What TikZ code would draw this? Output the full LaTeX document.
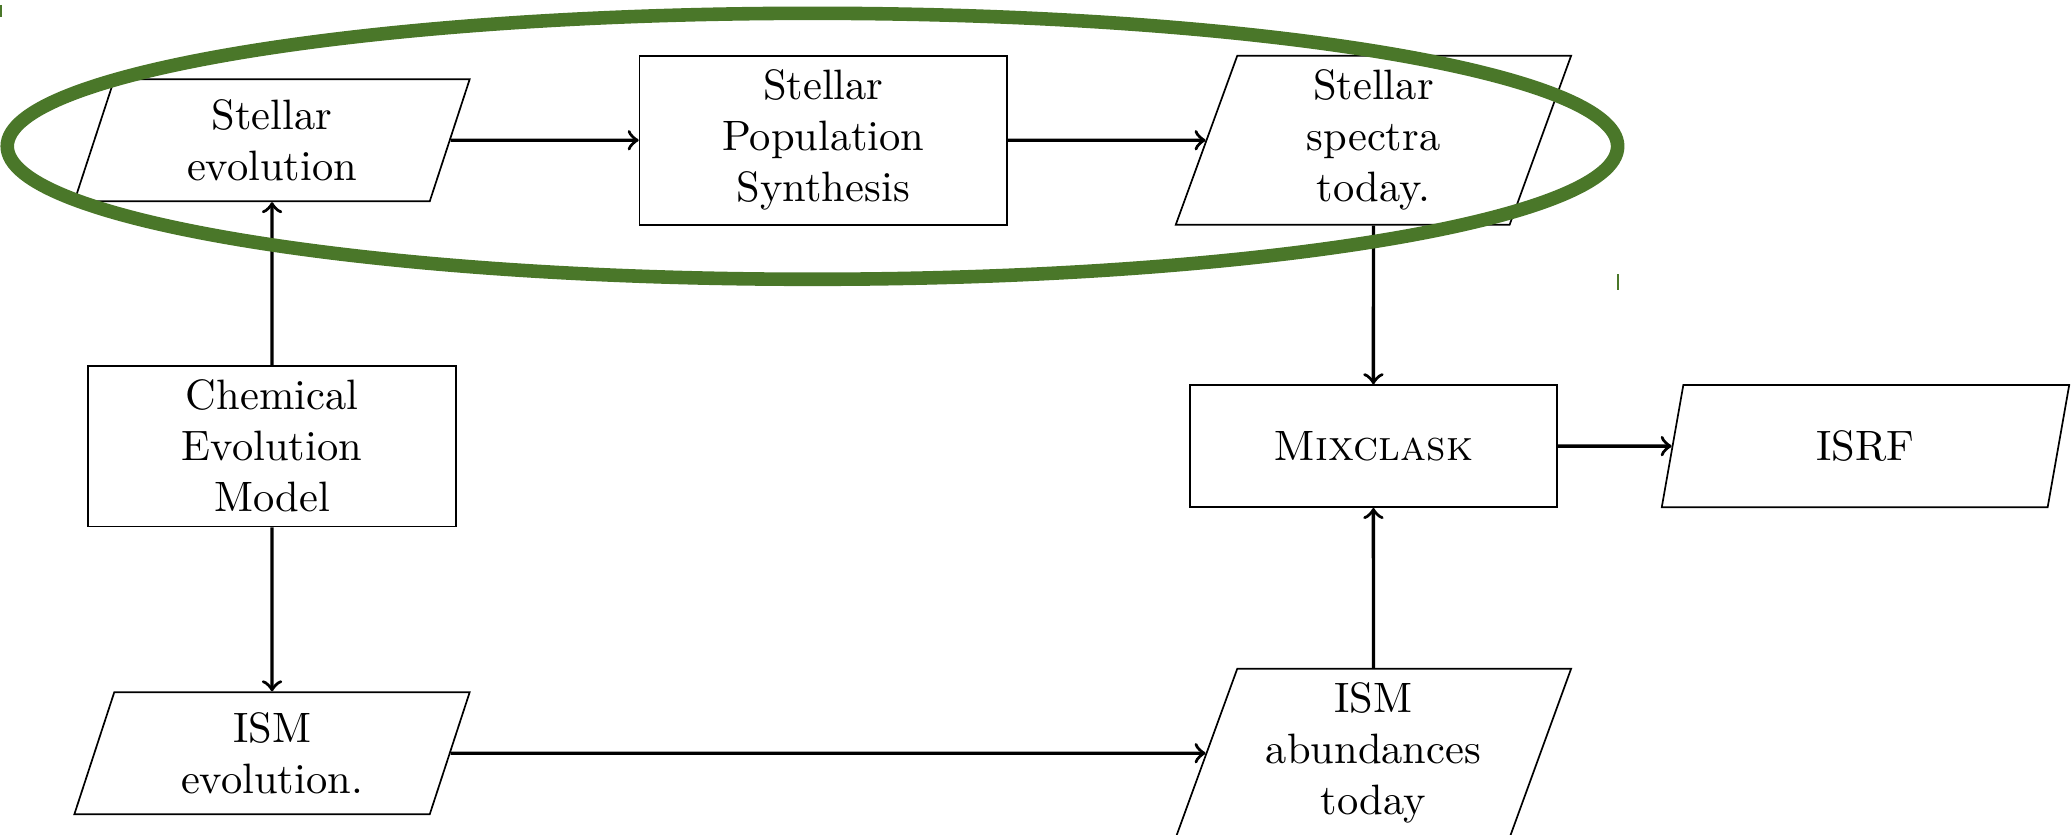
\documentclass[tikz,border=0pt]{standalone}
\usepackage{amsmath, amsfonts, amssymb}
\usetikzlibrary{shapes.geometric}

\definecolor{ringgreen}{RGB}{74,119,41}

\begin{document}
\begin{tikzpicture}
        [scale=1,
        box/.style={draw,rectangle,align=center,minimum width=3.04cm,minimum height=1.01cm},
        io/.style={draw,trapezium,trapezium left angle=70,trapezium right angle=110,trapezium stretches body,align=center,minimum width=3.27cm,minimum height=1.01cm},
        flow/.style={->,thick}]

        \useasboundingbox (0,0) rectangle (17.13,-6.9);

        \node[io] (evo) at (2.25, -1.16) {Stellar\\evolution};
        \node[box] (sps) at (6.81, -1.16) {Stellar\\Population\\Synthesis};
        \node[io] (spec) at (11.36, -1.16) {Stellar\\spectra\\today.};
        \node[box] (chem) at (2.25, -3.69) {Chemical\\Evolution\\Model};
        \node[box] (mix) at (11.36, -3.69) {\textsc{Mixclask}};
        \node[io, minimum width=3.37cm] (isrf) at (15.43, -3.69) {ISRF};
        \node[io] (ismevo) at (2.25, -6.23) {ISM\\evolution.};
        \node[io] (ismab) at (11.36, -6.23) {ISM\\abundances\\today};

        \draw[flow] (evo) -- (sps);
        \draw[flow] (sps) -- (spec);
        \draw[flow] (chem) -- (evo);
        \draw[flow] (chem) -- (ismevo);
        \draw[flow] (spec) -- (mix);
        \draw[flow] (ismab) -- (mix);
        \draw[flow] (ismevo) -- (ismab);
        \draw[flow] (mix) -- (isrf);

        % green ring round the top row
        \draw[ringgreen, line width=3.2pt] (6.72, -1.21) ellipse (6.66 and 1.10);
        \draw[ringgreen, line width=0.5pt] (0.01, -0.04) -- (0.01, -0.14);
        \draw[ringgreen, line width=0.5pt] (13.38, -2.27) -- (13.38, -2.40);

      \end{tikzpicture}
\end{document}
